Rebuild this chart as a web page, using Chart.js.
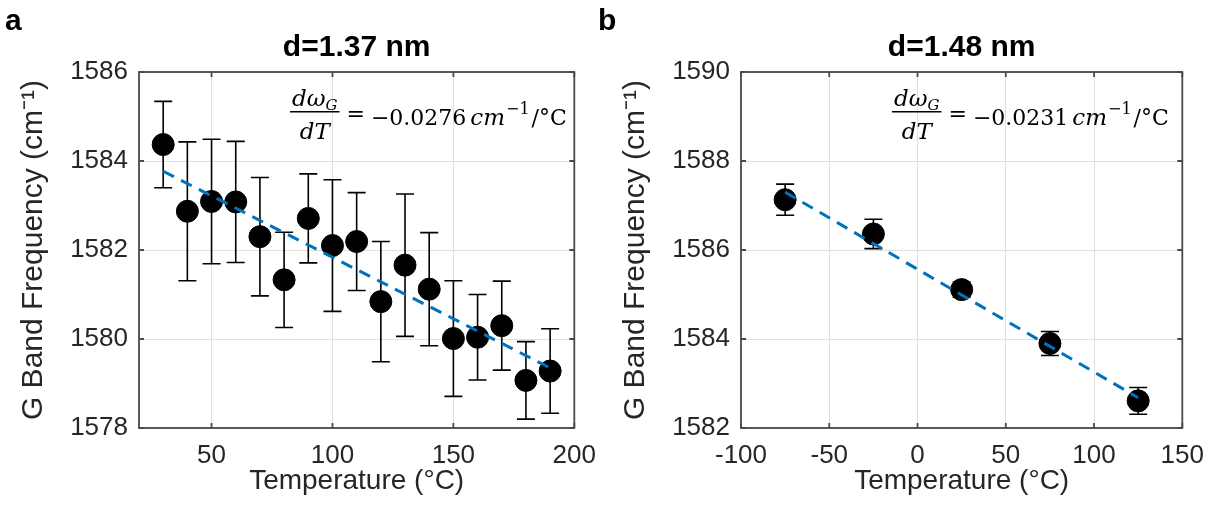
<!DOCTYPE html>
<html>
<head>
<meta charset="utf-8">
<script src="https://cdn.jsdelivr.net/npm/chart.js@4.4.1/dist/chart.umd.min.js"></script>
<style>
html,body{margin:0;padding:0;background:#fff;}
#wrap{position:relative;width:1216px;height:519px;overflow:hidden;}
#cA{position:absolute;left:0;top:0;}
#cB{position:absolute;left:590px;top:0;}
</style>
</head>
<body>
<div id="wrap">
  <canvas id="cA" width="608" height="519"></canvas>
  <canvas id="cB" width="626" height="519"></canvas>
</div>
<script>
// panel a : d = 1.37 nm
var tempA  = [30, 40, 50, 60, 70, 80, 90, 100, 110, 120, 130, 140, 150, 160, 170, 180, 190];
var freqA  = [1584.37, 1582.87, 1583.09, 1583.08, 1582.30, 1581.33, 1582.71, 1582.10, 1582.19, 1580.84, 1581.66, 1581.12, 1580.01, 1580.04, 1580.30, 1579.07, 1579.28];
var errA   = [0.97, 1.56, 1.40, 1.36, 1.33, 1.07, 1.00, 1.48, 1.10, 1.35, 1.60, 1.27, 1.30, 0.96, 1.00, 0.87, 0.95];
var fitXA  = [30, 190];
var fitYA  = [1583.77, 1579.35];
var xTicksA = [50, 100, 150, 200];
var yTicksA = [1578, 1580, 1582, 1584, 1586];

// panel b : d = 1.48 nm
var tempB  = [-75, -25, 25, 75, 125];
var freqB  = [1587.13, 1586.36, 1585.11, 1583.90, 1582.61];
var errB   = [0.35, 0.33, 0.17, 0.27, 0.30];
var fitXB  = [-75, 125];
var fitYB  = [1587.30, 1582.68];
var xTicksB = [-100, -50, 0, 50, 100, 150];
var yTicksB = [1582, 1584, 1586, 1588, 1590];

var TXT = '#262626';
var BOX = '#4a4a4a';

function pts(xs, ys){
	return xs.map(function(x, i){ return {x: x, y: ys[i]}; });
}

function drawFormula(ctx, x0, slope){
	var it = 'italic 23px "DejaVu Serif"', up = '22px "DejaVu Serif"';
	var subIt = 'italic 15px "DejaVu Serif"', sup = '16px "DejaVu Serif"';
	ctx.fillStyle = '#000';
	ctx.textAlign = 'left';
	ctx.textBaseline = 'alphabetic';

	ctx.font = it;  var wN = ctx.measureText('dω').width;
	ctx.font = subIt; var wG = ctx.measureText('G').width;
	ctx.font = it;  var wD = ctx.measureText('dT').width;
	var wBar = Math.max(wN + wG, wD) + 4;
	var cx = x0 + wBar / 2;

	ctx.font = it;  ctx.fillText('dω', cx - (wN + wG) / 2, 106);
	ctx.font = subIt; ctx.fillText('G', cx - (wN + wG) / 2 + wN, 110);
	ctx.font = it;  ctx.fillText('dT', cx - wD / 2, 139);
	ctx.fillRect(x0, 111, wBar, 1.5);

	var x = x0 + wBar + 7;
	ctx.font = up; ctx.fillText('=', x, 121);
	x += ctx.measureText('=').width + 6;
	ctx.fillText(slope, x, 125);
	x += ctx.measureText(slope).width + 4;
	ctx.font = it; ctx.fillText('cm', x, 125);
	x += ctx.measureText('cm').width + 1;
	ctx.font = sup; ctx.fillText('−1', x, 114);
	x += ctx.measureText('−1').width + 2;
	ctx.font = up; ctx.fillText('/°C', x, 125);
}

function makeDeco(cfg){
	return {
		id: 'deco',
		beforeDatasetsDraw: function(chart){
			var ctx = chart.ctx, xs = chart.scales.x, ys = chart.scales.y;
			ctx.save();
			ctx.strokeStyle = '#000';
			ctx.lineWidth = 1.6;
			cfg.t.forEach(function(t, i){
				var px = xs.getPixelForValue(t);
				var y1 = ys.getPixelForValue(cfg.g[i] + cfg.e[i]);
				var y2 = ys.getPixelForValue(cfg.g[i] - cfg.e[i]);
				ctx.beginPath();
				ctx.moveTo(px, y1); ctx.lineTo(px, y2);
				ctx.moveTo(px - 9, y1); ctx.lineTo(px + 9, y1);
				ctx.moveTo(px - 9, y2); ctx.lineTo(px + 9, y2);
				ctx.stroke();
			});
			ctx.restore();
		},
		afterDraw: function(chart){
			var ctx = chart.ctx, a = chart.chartArea;
			var xs = chart.scales.x, ys = chart.scales.y;
			ctx.save();
			// axes box + inner ticks
			ctx.strokeStyle = BOX;
			ctx.lineWidth = 1.8;
			ctx.strokeRect(a.left, a.top, a.right - a.left, a.bottom - a.top);
			ctx.beginPath();
			cfg.xt.forEach(function(v){
				var px = xs.getPixelForValue(v);
				ctx.moveTo(px, a.bottom); ctx.lineTo(px, a.bottom - 5);
				ctx.moveTo(px, a.top); ctx.lineTo(px, a.top + 5);
			});
			cfg.yt.forEach(function(v){
				var py = ys.getPixelForValue(v);
				ctx.moveTo(a.left, py); ctx.lineTo(a.left + 5, py);
				ctx.moveTo(a.right, py); ctx.lineTo(a.right - 5, py);
			});
			ctx.stroke();

			// title
			ctx.fillStyle = '#000';
			ctx.font = 'bold 30px "Liberation Sans", Arial, sans-serif';
			ctx.textAlign = 'center';
			ctx.textBaseline = 'middle';
			ctx.fillText(cfg.title, (a.left + a.right) / 2, 48);

			// panel letter
			ctx.textAlign = 'left';
			ctx.textBaseline = 'alphabetic';
			ctx.fillText(cfg.letter, cfg.letterX, 30);

			drawFormula(ctx, a.left + 151, cfg.slope);
			ctx.restore();
		}
	};
}

function makeChart(id, cfg){
	var tickFont = {family: '"Liberation Sans", Arial, sans-serif', size: 26};
	var xTitleFont = {family: '"Liberation Sans", Arial, sans-serif', size: 28};
	var yTitleFont = {family: '"Liberation Sans", Arial, sans-serif', size: 30};
	return new Chart(document.getElementById(id).getContext('2d'), {
		type: 'scatter',
		data: {
			datasets: [{
				data: pts(cfg.fx, cfg.fy),
				showLine: true,
				borderColor: '#0072BD',
				borderWidth: 3,
				borderDash: [12, 8],
				pointRadius: 0,
				order: 0
			}, {
				data: pts(cfg.t, cfg.g),
				backgroundColor: '#000',
				borderColor: '#000',
				pointRadius: 11,
				order: 1
			}]
		},
		options: {
			responsive: false,
			animation: false,
			events: [],
			layout: {padding: {left: cfg.padL, right: cfg.padR, top: 72, bottom: 0}},
			plugins: {legend: {display: false}, tooltip: {enabled: false}},
			scales: {
				x: {
					type: 'linear',
					min: cfg.xmin, max: cfg.xmax,
					afterBuildTicks: function(s){ s.ticks = cfg.xt.map(function(v){ return {value: v}; }); },
					afterFit: function(s){ s.height = 91; },
					grid: {color: '#e0e0e0', lineWidth: 1, drawTicks: false},
					border: {display: false},
					ticks: {color: TXT, font: tickFont, padding: 12, maxRotation: 0,
						callback: function(v){ return String(v); }},
					title: {display: true, text: 'Temperature (°C)', color: TXT, font: xTitleFont, padding: {top: 0, bottom: 21}}
				},
				y: {
					min: cfg.ymin, max: cfg.ymax,
					afterBuildTicks: function(s){ s.ticks = cfg.yt.map(function(v){ return {value: v}; }); },
					afterFit: function(s){ s.width = 139; },
					grid: {color: '#e0e0e0', lineWidth: 1, drawTicks: false},
					border: {display: false},
					ticks: {color: TXT, font: tickFont, padding: 11,
						callback: function(v){ return String(v); }},
					title: {display: true, text: 'G Band Frequency (cm⁻¹)', color: TXT, font: yTitleFont, padding: {top: 16, bottom: 0}}
				}
			}
		},
		plugins: [makeDeco(cfg)]
	});
}

makeChart('cA', {
	t: tempA, g: freqA, e: errA, fx: fitXA, fy: fitYA, xt: xTicksA, yt: yTicksA,
	xmin: 20, xmax: 200, ymin: 1578, ymax: 1586,
	padL: 0, padR: 26, title: 'd=1.37 nm', letter: 'a', letterX: 5,
	slope: '−0.0276'
});

makeChart('cB', {
	t: tempB, g: freqB, e: errB, fx: fitXB, fy: fitYB, xt: xTicksB, yt: yTicksB,
	xmin: -100, xmax: 150, ymin: 1582, ymax: 1590,
	padL: 12, padR: 29, title: 'd=1.48 nm', letter: 'b', letterX: 8,
	slope: '−0.0231'
});
</script>
</body>
</html>
